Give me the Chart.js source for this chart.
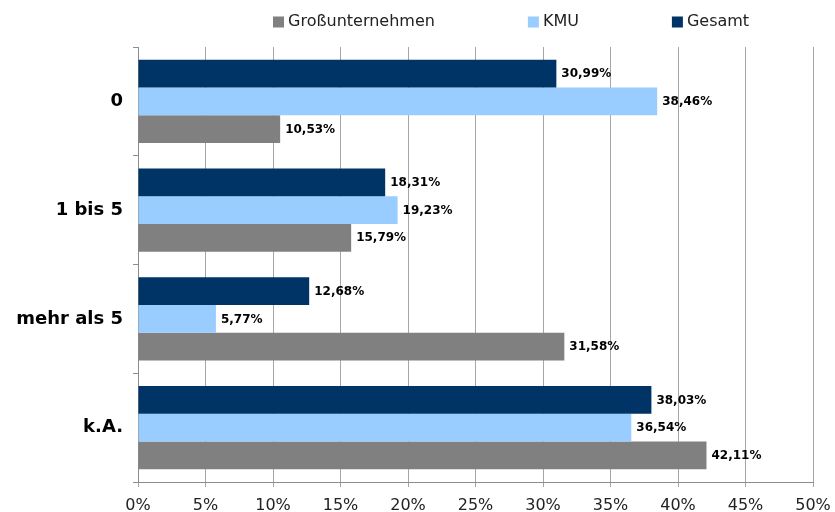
<!DOCTYPE html>
<html>
<head>
<meta charset="utf-8">
<script src="https://cdn.jsdelivr.net/npm/chart.js@4"></script>
<style>
html,body{margin:0;padding:0;background:#fff;}
#wrap{width:835px;height:512px;}
</style>
</head>
<body>
<div id="wrap"><canvas id="c" width="835" height="512"></canvas></div>
<script>
const categories = ['0', '1 bis 5', 'mehr als 5', 'k.A.'];
const gesamt = [30.99, 18.31, 12.68, 38.03];
const kmu = [38.46, 19.23, 5.77, 36.54];
const grossunternehmen = [10.53, 15.79, 31.58, 42.11];
const seriesNames = ['Gesamt', 'KMU', 'Großunternehmen'];
const xTicks = [0, 5, 10, 15, 20, 25, 30, 35, 40, 45, 50];

const colors = ['#003366', '#99CCFF', '#808080'];
const gridColor = '#a6a6a6';
const axisColor = '#8c8c8c';

function fmt(v) { return v.toFixed(2).replace('.', ',') + '%'; }

const valueLabels = {
  id: 'valueLabels',
  afterDatasetsDraw(chart) {
    const ctx = chart.ctx;
    ctx.save();
    ctx.font = 'bold 12px "DejaVu Sans"';
    ctx.fillStyle = '#000';
    ctx.textAlign = 'left';
    ctx.textBaseline = 'middle';
    chart.data.datasets.forEach((ds, i) => {
      const meta = chart.getDatasetMeta(i);
      meta.data.forEach((el, j) => {
        ctx.fillText(fmt(ds.data[j]), el.x + 5, el.y + 0.5);
      });
    });
    ctx.restore();
  }
};

const customLegend = {
  id: 'customLegend',
  afterDraw(chart) {
    const ctx = chart.ctx;
    const area = chart.chartArea;
    ctx.save();
    ctx.font = '16px "DejaVu Sans"';
    ctx.textBaseline = 'middle';
    ctx.textAlign = 'left';
    let x = area.left + 135;
    const y = 22;
    const items = chart.data.datasets.map((d, i) => ({label: d.label, color: d.backgroundColor})).reverse();
    items.forEach(it => {
      ctx.fillStyle = it.color;
      ctx.fillRect(x, y - 5.5, 11, 11);
      ctx.fillStyle = '#222';
      ctx.fillText(it.label, x + 15, y);
      x += 15 + ctx.measureText(it.label).width + 93;
    });
    ctx.restore();
  }
};

new Chart(document.getElementById('c'), {
  type: 'bar',
  data: {
    labels: categories,
    datasets: [
      {label: seriesNames[0], data: gesamt, backgroundColor: colors[0]},
      {label: seriesNames[1], data: kmu, backgroundColor: colors[1]},
      {label: seriesNames[2], data: grossunternehmen, backgroundColor: colors[2]}
    ]
  },
  options: {
    indexAxis: 'y',
    responsive: false,
    animation: false,
    devicePixelRatio: 1,
    layout: {padding: {top: 47, right: 22, bottom: 0, left: 0}},
    datasets: {bar: {categoryPercentage: 0.765, barPercentage: 1.0}},
    plugins: {
      legend: {display: false},
      tooltip: {enabled: false}
    },
    scales: {
      x: {
        min: 0, max: 50,
        afterBuildTicks(scale) { scale.ticks = xTicks.map(v => ({value: v})); },
        afterFit(scale) { scale.height = 30; scale.paddingLeft = 0; scale.paddingRight = 0; },
        ticks: {
          callback: v => v + '%',
          font: {family: '"DejaVu Sans"', size: 16},
          color: '#222',
          padding: 9,
          maxRotation: 0
        },
        grid: {color: gridColor, tickLength: 5, drawTicks: true},
        border: {color: axisColor}
      },
      y: {
        afterFit(scale) { scale.width = 138; },
        ticks: {
          font: {family: '"DejaVu Sans"', size: 18, weight: 'bold'},
          color: '#000',
          padding: 10
        },
        grid: {display: true, drawOnChartArea: false, drawTicks: true, tickLength: 5, color: axisColor, offset: true},
        border: {color: axisColor}
      }
    }
  },
  plugins: [valueLabels, customLegend]
});
</script>
</body>
</html>
